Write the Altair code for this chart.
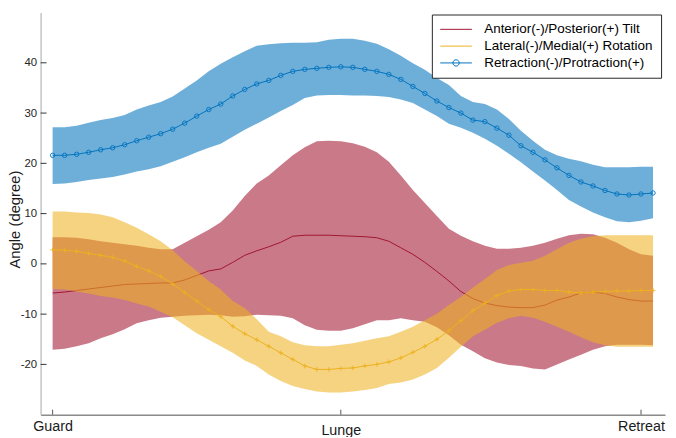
import altair as alt
import pandas as pd

# ---------------- data ----------------
idx = list(range(1, 52))
phase_pos = [1, 25, 50]
phase_labels = ["Guard", "Lunge", "Retreat"]
y_ticks = [-20, -10, 0, 10, 20, 30, 40]
series_names = ["Anterior(-)/Posterior(+) Tilt",
                "Lateral(-)/Medial(+) Rotation",
                "Retraction(-)/Protraction(+)"]
series_colors = ["#A2142F", "#EDB120", "#0072BD"]

tilt_mean = [-5.8, -5.6, -5.3, -5.0, -4.7, -4.4, -4.1, -4.0, -3.9, -3.8, -3.8, -3.2, -2.3, -1.4, -1.0, 0.3, 1.7,
             2.6, 3.4, 4.3, 5.5, 5.7, 5.7, 5.7, 5.6, 5.5, 5.4, 5.2, 4.5, 3.2, 1.9, 0.3, -1.5, -3.4,
             -5.5, -6.9, -7.8, -8.3, -8.6, -8.7, -8.7, -8.2, -7.2, -6.6, -5.8, -5.6, -5.9, -6.6, -7.1, -7.4, -7.4]
tilt_hi = [5.3, 5.3, 5.2, 4.9, 4.5, 4.2, 3.9, 3.6, 3.2, 2.9, 2.9, 4.2, 5.5, 6.8, 8.3, 10.6, 13.5,
           16.0, 17.6, 19.6, 21.6, 23.2, 24.4, 24.5, 24.4, 24.0, 23.3, 22.2, 20.3, 17.6, 14.7, 12.1, 9.5, 7.0,
           5.6, 4.5, 3.6, 3.0, 3.0, 3.2, 3.6, 4.2, 5.0, 5.7, 6.0, 5.9, 5.2, 4.2, 2.9, 1.9, 1.6]
tilt_lo = [-17.1, -16.9, -16.4, -15.8, -14.8, -14.0, -13.0, -11.8, -11.2, -10.7, -10.5, -10.3, -10.2, -10.1, -10.2, -10.5, -10.4,
           -10.1, -10.2, -10.3, -10.8, -12.2, -13.1, -13.3, -13.3, -12.8, -12.0, -11.2, -11.2, -10.8, -11.2, -11.5, -12.6, -14.2,
           -16.1, -17.4, -18.8, -19.6, -20.1, -20.3, -20.8, -21.0, -20.0, -19.0, -18.1, -17.1, -16.4, -16.1, -16.1, -16.1, -16.2]

rot_mean = [2.8, 2.7, 2.5, 2.1, 1.7, 1.3, 0.6, -0.5, -1.4, -2.5, -4.0, -5.7, -7.4, -9.1, -10.5, -12.4, -13.9,
            -15.1, -16.4, -17.7, -19.0, -20.3, -21.0, -21.0, -20.8, -20.7, -20.3, -20.0, -19.5, -18.7, -17.6, -16.4, -15.0, -13.3,
            -11.3, -9.3, -7.8, -6.3, -5.4, -5.1, -5.1, -5.3, -5.3, -5.6, -5.8, -5.6, -5.5, -5.4, -5.4, -5.3, -5.3]
rot_hi = [10.4, 10.4, 10.2, 10.1, 9.8, 9.3, 8.3, 7.2, 5.9, 4.5, 2.7, 0.5, -1.4, -3.4, -5.1, -7.4, -8.8,
          -11.0, -13.5, -14.4, -15.6, -16.2, -16.4, -16.4, -16.1, -15.8, -15.3, -14.8, -14.4, -13.5, -12.5, -11.2, -9.9, -8.2,
          -6.6, -4.7, -3.0, -1.2, -0.2, 0.2, 0.6, 1.6, 2.9, 4.2, 5.0, 5.5, 5.7, 5.7, 5.7, 5.7, 5.7]
rot_lo = [-5.0, -5.1, -5.5, -5.9, -6.4, -6.7, -7.2, -7.9, -8.5, -9.5, -10.6, -12.2, -13.8, -15.1, -16.4, -17.7, -19.2,
          -20.3, -22.0, -23.3, -24.3, -24.9, -25.4, -25.6, -25.6, -25.4, -25.1, -24.7, -23.9, -23.6, -23.0, -22.0, -20.7, -18.7,
          -16.5, -14.4, -13.1, -11.7, -10.8, -10.3, -10.7, -11.5, -12.5, -13.5, -14.6, -15.6, -16.2, -16.5, -16.5, -16.5, -16.5]

prot_mean = [21.6, 21.6, 21.8, 22.2, 22.7, 23.1, 23.7, 24.5, 25.2, 25.9, 26.8, 28.0, 29.4, 30.7, 31.8, 33.4, 34.7,
             35.8, 36.5, 37.5, 38.3, 38.7, 38.9, 39.1, 39.2, 39.1, 38.7, 38.3, 37.7, 36.7, 35.3, 33.9, 32.4, 31.1,
             30.0, 28.6, 28.3, 27.0, 25.6, 23.5, 22.2, 20.7, 19.1, 17.6, 16.3, 15.5, 14.6, 13.9, 13.7, 13.9, 14.1]
prot_hi = [27.2, 27.2, 27.5, 28.1, 28.6, 29.0, 29.6, 30.7, 31.5, 32.2, 33.3, 34.9, 36.5, 38.3, 39.8, 41.1, 42.3,
           43.4, 43.7, 43.9, 44.0, 44.0, 44.1, 44.6, 44.8, 44.8, 44.4, 43.8, 42.7, 41.4, 39.9, 38.6, 37.0, 35.6,
           33.4, 32.2, 31.8, 30.7, 28.8, 26.5, 24.5, 22.7, 21.6, 20.9, 20.4, 19.7, 19.2, 19.2, 19.2, 19.3, 19.3]
prot_lo = [15.9, 16.0, 16.3, 16.7, 17.0, 17.3, 17.8, 18.4, 18.8, 19.4, 20.3, 21.2, 22.2, 23.1, 23.9, 25.3, 26.7,
           27.9, 29.1, 30.4, 31.6, 33.0, 33.5, 33.6, 33.6, 33.5, 33.5, 33.4, 33.2, 32.7, 32.0, 30.7, 29.4, 27.9,
           27.1, 26.1, 24.9, 23.5, 21.9, 20.2, 18.4, 16.6, 14.7, 12.7, 11.4, 10.2, 9.3, 8.5, 8.3, 8.6, 9.1]

# ---------------- tables ----------------
def frame(mean, lo, hi):
    return pd.DataFrame({"i": idx, "m": mean, "lo": lo, "hi": hi})

df_tilt = frame(tilt_mean, tilt_lo, tilt_hi)
df_rot = frame(rot_mean, rot_lo, rot_hi)
df_prot = frame(prot_mean, prot_lo, prot_hi)
df_yt = pd.DataFrame({"v": y_ticks})
df_xt = pd.DataFrame({"p": phase_pos})
df_leg = pd.DataFrame({"s": series_names, "i": [None] * 3, "m": [None] * 3})

FONT = "Liberation Sans"
W, H = 632, 407
xscale = alt.Scale(domain=[0, 52], nice=False, zero=False)
yscale = alt.Scale(domain=[-30, 50], nice=False, zero=False)

label_expr = " : ".join(
    f"datum.value == {p} ? '{l}'" for p, l in zip(phase_pos, phase_labels)
) + " : ''"

x_axis = alt.Axis(values=phase_pos, labelExpr=label_expr, title=None, ticks=False,
                  domainColor="#4d4d4d", domainWidth=1, labelFontSize=14.5,
                  labelColor="#1a1a1a", labelFont=FONT,
                  labelPadding={"condition": {"test": "datum.value == 25", "value": 9}, "value": 5},
                  labelFlush=False, labelOverlap=False)
y_axis = alt.Axis(values=y_ticks, title="Angle (degree)", ticks=False,
                  labelExpr="'' + datum.value",
                  domainColor="#c4c4c4", domainWidth=1.5, labelFontSize=11.5,
                  labelColor="#262626", labelFont=FONT, labelPadding=4,
                  titleFont=FONT, titleFontSize=15, titleFontWeight="normal",
                  titleColor="#1a1a1a", titleX=-18, titleY=209,
                  titleBaseline="bottom", titleAlign="center", titleAngle=270)

def X(field):
    return alt.X(field, scale=xscale, axis=x_axis)

def Y(field):
    return alt.Y(field, scale=yscale, axis=y_axis)

def band(df, color):
    return alt.Chart(df).mark_area(color=color, opacity=0.57, interpolate="linear").encode(
        x=X("i:Q"), y=Y("hi:Q"), y2="lo:Q",
    )

def line(df, color, width=1.0):
    return alt.Chart(df).mark_line(color=color, strokeWidth=width).encode(
        x=X("i:Q"), y=Y("m:Q"),
    )

def points(df, color, shape, size):
    return alt.Chart(df).mark_point(color=color, shape=shape, size=size, filled=False,
                                     strokeWidth=0.9, opacity=1).encode(
        x=X("i:Q"), y=Y("m:Q"),
    )

red_band = band(df_tilt, series_colors[0])
red_line = line(df_tilt, series_colors[0], 1.0)
yel_band = band(df_rot, series_colors[1])
yel_line = line(df_rot, series_colors[1], 1.0)
yel_pts = points(df_rot, series_colors[1], "M-1,0L1,0M0,-1L0,1", 22)
blu_band = band(df_prot, series_colors[2])
blu_line = line(df_prot, series_colors[2], 1.0)
blu_pts = points(df_prot, series_colors[2], "circle", 20)

ytick_rules = alt.Chart(df_yt).mark_rule(color="#333333", strokeWidth=1).encode(
    y=Y("v:Q"), x=alt.value(0), x2=alt.value(6),
)
xtick_rules = alt.Chart(df_xt).mark_rule(color="#555555", strokeWidth=1).encode(
    x=X("p:Q"), y=alt.value(H), y2=alt.value(H - 5),
)

legend_shapes = ["M-1,0L1,0", "M-1,0L1,0",
                 "M-1,0L1,0M0.2,0A0.2,0.2,0,1,1,-0.2,0A0.2,0.2,0,1,1,0.2,0"]

def make_legend():
    return alt.Legend(title=None, orient="none", legendX=396, legendY=2,
                      direction="vertical", fillColor="white",
                      strokeColor="#262626", padding=8,
                      symbolSize=1024, symbolStrokeWidth=1,
                      clipHeight=14, rowPadding=3, labelOffset=12,
                      labelFont=FONT, labelFontSize=13.6, labelColor="#000000",
                      labelLimit=400)

legend_layer = alt.Chart(df_leg).mark_point(filled=False, strokeWidth=1, size=1024, opacity=1).encode(
    x=X("i:Q"), y=Y("m:Q"),
    color=alt.Color("s:N", scale=alt.Scale(domain=series_names, range=series_colors),
                    legend=make_legend()),
    shape=alt.Shape("s:N", scale=alt.Scale(domain=series_names, range=legend_shapes),
                    legend=make_legend()),
)

chart = alt.layer(
    red_band, red_line, yel_band, yel_line, yel_pts,
    blu_band, blu_line, blu_pts, ytick_rules, xtick_rules, legend_layer,
).properties(
    width=W, height=H,
    padding={"left": 33, "top": 2, "right": 3, "bottom": 20},
    autosize=alt.AutoSizeParams(type="none"),
    background="white",
).configure_view(stroke="transparent").configure_axis(grid=False)

chart.save("out.html", embed_options={"renderer": "svg", "actions": False})
